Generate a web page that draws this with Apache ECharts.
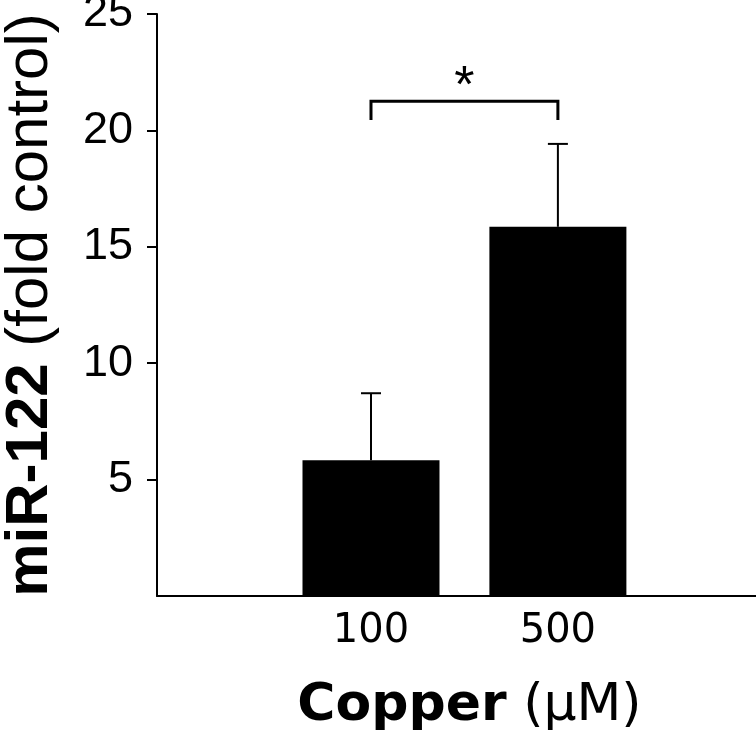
<!DOCTYPE html>
<html><head><meta charset="utf-8">
<script src="https://cdn.jsdelivr.net/npm/echarts@6/dist/echarts.min.js"></script>
<style>html,body{margin:0;padding:0;background:#fff}#c{width:756px;height:730px}</style>
</head><body><div id="c"></div>
<script>
// ---- data ----
const categories = ['100', '500'];          // Copper (µM)
const categoryPos = [1, 2];
const means = [5.83, 15.86];                 // miR-122 fold control
const errorTops = [8.71, 19.42];             // mean + error
const yTickValues = [0, 5, 10, 15, 20, 25];
const yTickLabels = ['', '5', '10', '15', '20', '25'];
const yTickMarks = [5, 10, 15, 20, 25];
const bracket = [1, 2, 21.25, 20.45];        // x1, x2, top, foot
const sigMark = '*';

const FONT = 'Liberation Sans, Arial, Helvetica, sans-serif';
const WIDE = 'DejaVu Sans, Liberation Sans, sans-serif';
const chart = echarts.init(document.getElementById('c'));

const barData = categoryPos.map((x, i) => [x, means[i]]);
const errData = categoryPos.map((x, i) => [x, means[i], errorTops[i]]);

chart.setOption({
  animation: false,
  backgroundColor: '#fff',
  grid: { left: 157, right: 0, top: 14, bottom: 134, containLabel: false, outerBoundsMode: 'none' },
  xAxis: {
    type: 'value', min: -0.145, max: 3.06,
    splitLine: { show: false },
    axisLine: { show: true, onZero: false, lineStyle: { color: '#000', width: 2 } },
    axisTick: { show: false },
    axisLabel: {
      customValues: categoryPos,
      formatter: v => categories[categoryPos.indexOf(v)] || '',
      color: '#000', fontFamily: WIDE, fontSize: 40, margin: 16
    },
    name: '{b|Copper} (µM)',
    nameLocation: 'middle', nameGap: 84,
    nameTextStyle: {
      color: '#000', fontFamily: WIDE, fontSize: 52, padding: [0, 0, 0, 26],
      rich: { b: { fontWeight: 'bold', fontFamily: WIDE, fontSize: 52, color: '#000' } }
    }
  },
  yAxis: {
    type: 'value', min: 0, max: 25, interval: 5,
    splitLine: { show: false },
    axisLine: { show: true, onZero: false, lineStyle: { color: '#000', width: 2 } },
    axisTick: { show: true, inside: false, length: 10, customValues: yTickMarks, lineStyle: { color: '#000', width: 2 } },
    axisLabel: {
      formatter: v => yTickLabels[yTickValues.indexOf(v)],
      color: '#000', fontFamily: FONT, fontSize: 45, margin: 24
    },
    name: '{b|miR-122} (fold control)',
    nameLocation: 'middle', nameRotate: 90, nameGap: 97,
    nameTextStyle: {
      color: '#000', fontFamily: FONT, fontSize: 60,
      rich: { b: { fontWeight: 'bold', fontFamily: FONT, fontSize: 60, color: '#000' } }
    }
  },
  series: [
    {
      type: 'bar', data: barData, barWidth: 137,
      itemStyle: { color: '#000' }
    },
    {
      type: 'custom', data: errData, z: 1,
      renderItem: (params, api) => {
        const base = api.coord([api.value(0), api.value(1)]);
        const top = api.coord([api.value(0), api.value(2)]);
        return {
          type: 'group', children: [
            { type: 'line', shape: { x1: base[0], y1: base[1], x2: top[0], y2: top[1] }, style: { stroke: '#000', lineWidth: 2 } },
            { type: 'line', shape: { x1: top[0] - 10, y1: top[1], x2: top[0] + 10, y2: top[1] }, style: { stroke: '#000', lineWidth: 2 } }
          ]
        };
      }
    },
    {
      type: 'custom', data: [bracket], z: 3,
      renderItem: (params, api) => {
        const a = api.coord([api.value(0), api.value(3)]);
        const b = api.coord([api.value(0), api.value(2)]);
        const c = api.coord([api.value(1), api.value(2)]);
        const d = api.coord([api.value(1), api.value(3)]);
        const mid = api.coord([(api.value(0) + api.value(1)) / 2, api.value(2)]);
        return {
          type: 'group', children: [
            { type: 'polyline', shape: { points: [a, b, c, d] }, style: { stroke: '#000', lineWidth: 3, fill: null } },
            { type: 'text', x: mid[0], y: mid[1] + 12, style: { text: sigMark, fill: '#000', fontFamily: FONT, fontSize: 52, align: 'center', verticalAlign: 'bottom' } }
          ]
        };
      }
    }
  ]
});
</script></body></html>
